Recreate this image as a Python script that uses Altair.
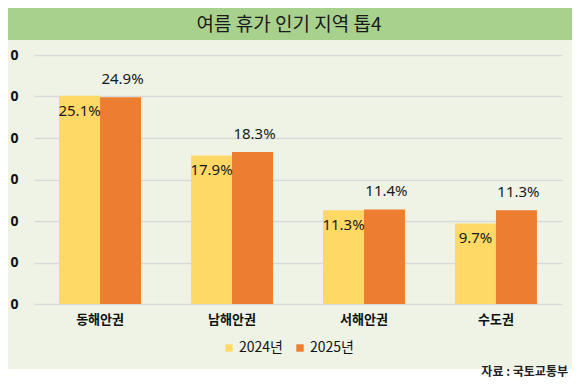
import altair as alt
import pandas as pd

regions = ["동해안권", "남해안권", "서해안권", "수도권"]
years = ["2024년", "2025년"]
values_2024 = [25.1, 17.9, 11.3, 9.7]
values_2025 = [24.9, 18.3, 11.4, 11.3]
colors = ["#FFD966", "#ED7D31"]
title_text = "여름 휴가 인기 지역 톱4"
source_text = "자료 : 국토교통부"
y_ticks = [0, 5, 10, 15, 20, 25, 30]

rows = []
for r, a, b in zip(regions, values_2024, values_2025):
    rows.append({"region": r, "year": years[0], "value": a, "label": f"{a:.1f}%"})
    rows.append({"region": r, "year": years[1], "value": b, "label": f"{b:.1f}%"})
df = pd.DataFrame(rows)

KFONT = "Noto Sans CJK KR"
one = alt.Data(values=[{}])

bottom_strip = alt.Chart(one).mark_rect(color="white").encode(
    x=alt.value(-30), x2=alt.value(545), y=alt.value(314), y2=alt.value(330)
)
titlebar = alt.Chart(one).mark_rect(color="#A9D18E").encode(
    x=alt.value(-30), x2=alt.value(545), y=alt.value(-50), y2=alt.value(-15)
)
title = alt.Chart(pd.DataFrame({"t": [title_text]})).mark_text(
    font=KFONT, fontSize=19, color="#1a1a1a", align="center", baseline="middle"
).encode(x=alt.value(255), y=alt.value(-30), text="t:N")
source = alt.Chart(pd.DataFrame({"t": [source_text]})).mark_text(
    font=KFONT, fontSize=12, fontWeight="bold", color="#222222", align="right", baseline="bottom"
).encode(x=alt.value(534), y=alt.value(324), text="t:N")

xenc = alt.X("region:N", sort=regions, title=None,
             scale=alt.Scale(paddingInner=0.379, paddingOuter=0.19),
             axis=alt.Axis(labelFont=KFONT, labelFontSize=13, labelFontWeight="bold",
                           labelColor="#111111", labelPadding=9, domain=False, ticks=False,
                           labelAngle=0))
yenc = alt.Y("value:Q", title=None,
             scale=alt.Scale(domain=[0, 30], nice=False),
             axis=alt.Axis(values=y_ticks, labelExpr="'0'", labelFont="Noto Sans",
                           labelFontSize=14, labelFontWeight="bold", labelColor="#111111",
                           labelAlign="left", labelPadding=24, ticks=False, domain=False,
                           grid=True, gridColor="#D9D9D9", gridWidth=1.5))

base = alt.Chart(df)
bars = base.mark_bar().encode(
    x=xenc, y=yenc,
    xOffset=alt.XOffset("year:N", sort=years, scale=alt.Scale(paddingInner=0, paddingOuter=0)),
    color=alt.Color("year:N", sort=years, title=None,
                    scale=alt.Scale(domain=years, range=colors),
                    legend=alt.Legend(orient="none", legendX=188, legendY=286,
                                      direction="horizontal", symbolType="square",
                                      symbolSize=55, symbolStrokeWidth=0,
                                      labelFont=KFONT, labelFontSize=14, labelColor="#111111",
                                      labelOffset=3, columnPadding=10)),
)
lab24 = base.transform_filter(alt.datum.year == years[0]).mark_text(
    font="Noto Sans", fontSize=15, color="#1a1a1a", baseline="middle", dy=15
).encode(
    x=alt.X("region:N", sort=regions), y="value:Q",
    xOffset=alt.XOffset("year:N", sort=years), text="label:N"
)
lab25 = base.transform_filter(alt.datum.year == years[1]).mark_text(
    font="Noto Sans", fontSize=15, color="#1a1a1a", baseline="middle", dy=-18, dx=2
).encode(
    x=alt.X("region:N", sort=regions), y="value:Q",
    xOffset=alt.XOffset("year:N", sort=years), text="label:N"
)

chart = alt.layer(bottom_strip, titlebar, bars, lab24, lab25, title, source).properties(
    width=528, height=249,
    autosize=alt.AutoSizeParams(type="none"),
    padding={"left": 26, "top": 47, "right": 10, "bottom": 76},
).configure(background="#EEF3E6").configure_view(stroke=None)

chart.save("out.html", embed_options={"renderer": "svg", "actions": False})
